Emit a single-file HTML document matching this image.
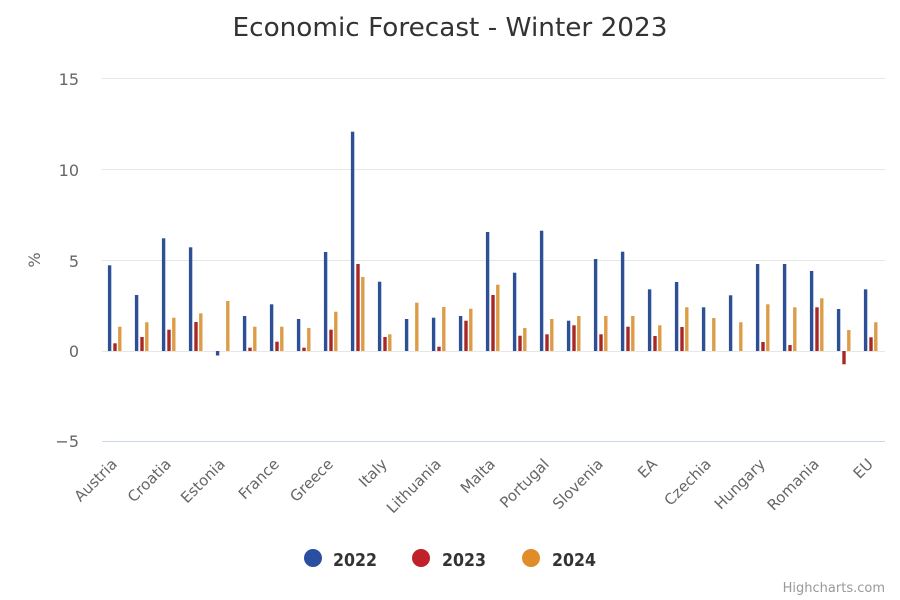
<!DOCTYPE html>
<html>
<head>
<meta charset="utf-8">
<style>
html,body{margin:0;padding:0;background:#fff;}
svg{display:block;}
text{font-family:"DejaVu Sans","Liberation Sans",sans-serif;}
</style>
</head>
<body>
<svg width="900" height="600" viewBox="0 0 900 600" xmlns="http://www.w3.org/2000/svg">
<rect x="0" y="0" width="900" height="600" fill="#fff"/>
<!-- title -->
<text x="450" y="36" text-anchor="middle" font-size="26" fill="#333" textLength="435" lengthAdjust="spacingAndGlyphs">Economic Forecast - Winter 2023</text>

<!-- gridlines -->
<g stroke="#e6e6e6" stroke-width="1">
<line x1="102" y1="78.5" x2="885" y2="78.5"/>
<line x1="102" y1="169.5" x2="885" y2="169.5"/>
<line x1="102" y1="260.5" x2="885" y2="260.5"/>
<line x1="102" y1="351.5" x2="885" y2="351.5"/>
</g>
<line x1="102" y1="441.5" x2="885" y2="441.5" stroke="#ccd6eb" stroke-width="1"/>

<!-- y labels -->
<g font-size="16" fill="#666" text-anchor="end">
<text x="79" y="85">15</text>
<text x="79" y="176">10</text>
<text x="79" y="267">5</text>
<text x="79" y="357">0</text>
<text x="79" y="447">−5</text>
</g>
<text x="40" y="260" font-size="16" fill="#666" text-anchor="middle" transform="rotate(-90 40 260)">%</text>

<!-- bars: B=#2d4f96 R=#a82828 O=#dc9c48 ; blue x=5.9, red x=11.3, orange x=16.1 -->
<g>
<g transform="translate(102,0)"><rect x="5.9" y="265.3" width="3.4" height="85.7" fill="#2d4f96"/><rect x="11.3" y="343.3" width="3.4" height="7.7" fill="#a82828"/><rect x="16.1" y="326.7" width="3.4" height="24.3" fill="#dc9c48"/></g>
<g transform="translate(129,0)"><rect x="5.9" y="295" width="3.4" height="56" fill="#2d4f96"/><rect x="11.3" y="337" width="3.4" height="14" fill="#a82828"/><rect x="16.1" y="322.3" width="3.4" height="28.7" fill="#dc9c48"/></g>
<g transform="translate(156,0)"><rect x="5.9" y="238.3" width="3.4" height="112.7" fill="#2d4f96"/><rect x="11.3" y="329.7" width="3.4" height="21.3" fill="#a82828"/><rect x="16.1" y="317.7" width="3.4" height="33.3" fill="#dc9c48"/></g>
<g transform="translate(183,0)"><rect x="5.9" y="247.3" width="3.4" height="103.7" fill="#2d4f96"/><rect x="11.3" y="322" width="3.4" height="29" fill="#a82828"/><rect x="16.1" y="313.3" width="3.4" height="37.7" fill="#dc9c48"/></g>
<g transform="translate(210,0)"><rect x="5.9" y="351" width="3.4" height="4.5" fill="#2d4f96"/><rect x="16.1" y="301" width="3.4" height="50" fill="#dc9c48"/></g>
<g transform="translate(237,0)"><rect x="5.9" y="316" width="3.4" height="35" fill="#2d4f96"/><rect x="11.3" y="347.7" width="3.4" height="3.3" fill="#a82828"/><rect x="16.1" y="326.7" width="3.4" height="24.3" fill="#dc9c48"/></g>
<g transform="translate(264,0)"><rect x="5.9" y="304.3" width="3.4" height="46.7" fill="#2d4f96"/><rect x="11.3" y="341.7" width="3.4" height="9.3" fill="#a82828"/><rect x="16.1" y="326.7" width="3.4" height="24.3" fill="#dc9c48"/></g>
<g transform="translate(291,0)"><rect x="5.9" y="319" width="3.4" height="32" fill="#2d4f96"/><rect x="11.3" y="347.7" width="3.4" height="3.3" fill="#a82828"/><rect x="16.1" y="328" width="3.4" height="23" fill="#dc9c48"/></g>
<g transform="translate(318,0)"><rect x="5.9" y="252" width="3.4" height="99" fill="#2d4f96"/><rect x="11.3" y="329.7" width="3.4" height="21.3" fill="#a82828"/><rect x="16.1" y="311.7" width="3.4" height="39.3" fill="#dc9c48"/></g>
<g transform="translate(345,0)"><rect x="5.9" y="131.7" width="3.4" height="219.3" fill="#2d4f96"/><rect x="11.3" y="264" width="3.4" height="87" fill="#a82828"/><rect x="16.1" y="277" width="3.4" height="74" fill="#dc9c48"/></g>
<g transform="translate(372,0)"><rect x="5.9" y="281.7" width="3.4" height="69.3" fill="#2d4f96"/><rect x="11.3" y="337" width="3.4" height="14" fill="#a82828"/><rect x="16.1" y="334.3" width="3.4" height="16.7" fill="#dc9c48"/></g>
<g transform="translate(399,0)"><rect x="5.9" y="319" width="3.4" height="32" fill="#2d4f96"/><rect x="16.1" y="302.7" width="3.4" height="48.3" fill="#dc9c48"/></g>
<g transform="translate(426,0)"><rect x="5.9" y="317.7" width="3.4" height="33.3" fill="#2d4f96"/><rect x="11.3" y="346.7" width="3.4" height="4.3" fill="#a82828"/><rect x="16.1" y="307" width="3.4" height="44" fill="#dc9c48"/></g>
<g transform="translate(453,0)"><rect x="5.9" y="316" width="3.4" height="35" fill="#2d4f96"/><rect x="11.3" y="320.7" width="3.4" height="30.3" fill="#a82828"/><rect x="16.1" y="308.7" width="3.4" height="42.3" fill="#dc9c48"/></g>
<g transform="translate(480,0)"><rect x="5.9" y="232" width="3.4" height="119" fill="#2d4f96"/><rect x="11.3" y="295" width="3.4" height="56" fill="#a82828"/><rect x="16.1" y="284.7" width="3.4" height="66.3" fill="#dc9c48"/></g>
<g transform="translate(507,0)"><rect x="5.9" y="272.7" width="3.4" height="78.3" fill="#2d4f96"/><rect x="11.3" y="335.7" width="3.4" height="15.3" fill="#a82828"/><rect x="16.1" y="328" width="3.4" height="23" fill="#dc9c48"/></g>
<g transform="translate(534,0)"><rect x="5.9" y="230.7" width="3.4" height="120.3" fill="#2d4f96"/><rect x="11.3" y="334.3" width="3.4" height="16.7" fill="#a82828"/><rect x="16.1" y="319" width="3.4" height="32" fill="#dc9c48"/></g>
<g transform="translate(561,0)"><rect x="5.9" y="320.7" width="3.4" height="30.3" fill="#2d4f96"/><rect x="11.3" y="325.3" width="3.4" height="25.7" fill="#a82828"/><rect x="16.1" y="316" width="3.4" height="35" fill="#dc9c48"/></g>
<g transform="translate(588,0)"><rect x="5.9" y="259" width="3.4" height="92" fill="#2d4f96"/><rect x="11.3" y="334.3" width="3.4" height="16.7" fill="#a82828"/><rect x="16.1" y="316" width="3.4" height="35" fill="#dc9c48"/></g>
<g transform="translate(615,0)"><rect x="5.9" y="251.7" width="3.4" height="99.3" fill="#2d4f96"/><rect x="11.3" y="326.7" width="3.4" height="24.3" fill="#a82828"/><rect x="16.1" y="316" width="3.4" height="35" fill="#dc9c48"/></g>
<g transform="translate(642,0)"><rect x="5.9" y="289.3" width="3.4" height="61.7" fill="#2d4f96"/><rect x="11.3" y="336" width="3.4" height="15" fill="#a82828"/><rect x="16.1" y="325.3" width="3.4" height="25.7" fill="#dc9c48"/></g>
<g transform="translate(669,0)"><rect x="5.9" y="282" width="3.4" height="69" fill="#2d4f96"/><rect x="11.3" y="327" width="3.4" height="24" fill="#a82828"/><rect x="16.1" y="307.3" width="3.4" height="43.7" fill="#dc9c48"/></g>
<g transform="translate(696,0)"><rect x="5.9" y="307.3" width="3.4" height="43.7" fill="#2d4f96"/><rect x="16.1" y="318" width="3.4" height="33" fill="#dc9c48"/></g>
<g transform="translate(723,0)"><rect x="5.9" y="295.3" width="3.4" height="55.7" fill="#2d4f96"/><rect x="16.1" y="322.3" width="3.4" height="28.7" fill="#dc9c48"/></g>
<g transform="translate(750,0)"><rect x="5.9" y="264" width="3.4" height="87" fill="#2d4f96"/><rect x="11.3" y="342" width="3.4" height="9" fill="#a82828"/><rect x="16.1" y="304.3" width="3.4" height="46.7" fill="#dc9c48"/></g>
<g transform="translate(777,0)"><rect x="5.9" y="264" width="3.4" height="87" fill="#2d4f96"/><rect x="11.3" y="345" width="3.4" height="6" fill="#a82828"/><rect x="16.1" y="307.3" width="3.4" height="43.7" fill="#dc9c48"/></g>
<g transform="translate(804,0)"><rect x="5.9" y="271" width="3.4" height="80" fill="#2d4f96"/><rect x="11.3" y="307.3" width="3.4" height="43.7" fill="#a82828"/><rect x="16.1" y="298.3" width="3.4" height="52.7" fill="#dc9c48"/></g>
<g transform="translate(831,0)"><rect x="5.9" y="309" width="3.4" height="42" fill="#2d4f96"/><rect x="11.3" y="351" width="3.4" height="13.3" fill="#a82828"/><rect x="16.1" y="330" width="3.4" height="21" fill="#dc9c48"/></g>
<g transform="translate(858,0)"><rect x="5.9" y="289.3" width="3.4" height="61.7" fill="#2d4f96"/><rect x="11.3" y="337.3" width="3.4" height="13.7" fill="#a82828"/><rect x="16.1" y="322.3" width="3.4" height="28.7" fill="#dc9c48"/></g>
</g>

<!-- x labels -->
<g font-size="15" fill="#666" text-anchor="end">
<text x="118" y="465" transform="rotate(-45 118 465)">Austria</text>
<text x="172" y="465" transform="rotate(-45 172 465)">Croatia</text>
<text x="226" y="465" transform="rotate(-45 226 465)">Estonia</text>
<text x="280" y="465" transform="rotate(-45 280 465)">France</text>
<text x="334" y="465" transform="rotate(-45 334 465)">Greece</text>
<text x="388" y="465" transform="rotate(-45 388 465)">Italy</text>
<text x="442" y="465" transform="rotate(-45 442 465)">Lithuania</text>
<text x="496" y="465" transform="rotate(-45 496 465)">Malta</text>
<text x="550" y="465" transform="rotate(-45 550 465)">Portugal</text>
<text x="604" y="465" transform="rotate(-45 604 465)">Slovenia</text>
<text x="658" y="465" transform="rotate(-45 658 465)">EA</text>
<text x="712" y="465" transform="rotate(-45 712 465)">Czechia</text>
<text x="766" y="465" transform="rotate(-45 766 465)">Hungary</text>
<text x="820" y="465" transform="rotate(-45 820 465)">Romania</text>
<text x="874" y="465" transform="rotate(-45 874 465)">EU</text>
</g>

<!-- legend -->
<circle cx="313" cy="558" r="9" fill="#2b4fa0"/>
<text x="333" y="566" font-size="18" font-weight="bold" fill="#333" textLength="44" lengthAdjust="spacingAndGlyphs">2022</text>
<circle cx="421" cy="558" r="9" fill="#c0202a"/>
<text x="442" y="566" font-size="18" font-weight="bold" fill="#333" textLength="44" lengthAdjust="spacingAndGlyphs">2023</text>
<circle cx="531" cy="558" r="9" fill="#e08c2a"/>
<text x="552" y="566" font-size="18" font-weight="bold" fill="#333" textLength="44" lengthAdjust="spacingAndGlyphs">2024</text>

<!-- credits -->
<text x="885" y="592" font-size="13" fill="#999" text-anchor="end">Highcharts.com</text>
</svg>
</body>
</html>
